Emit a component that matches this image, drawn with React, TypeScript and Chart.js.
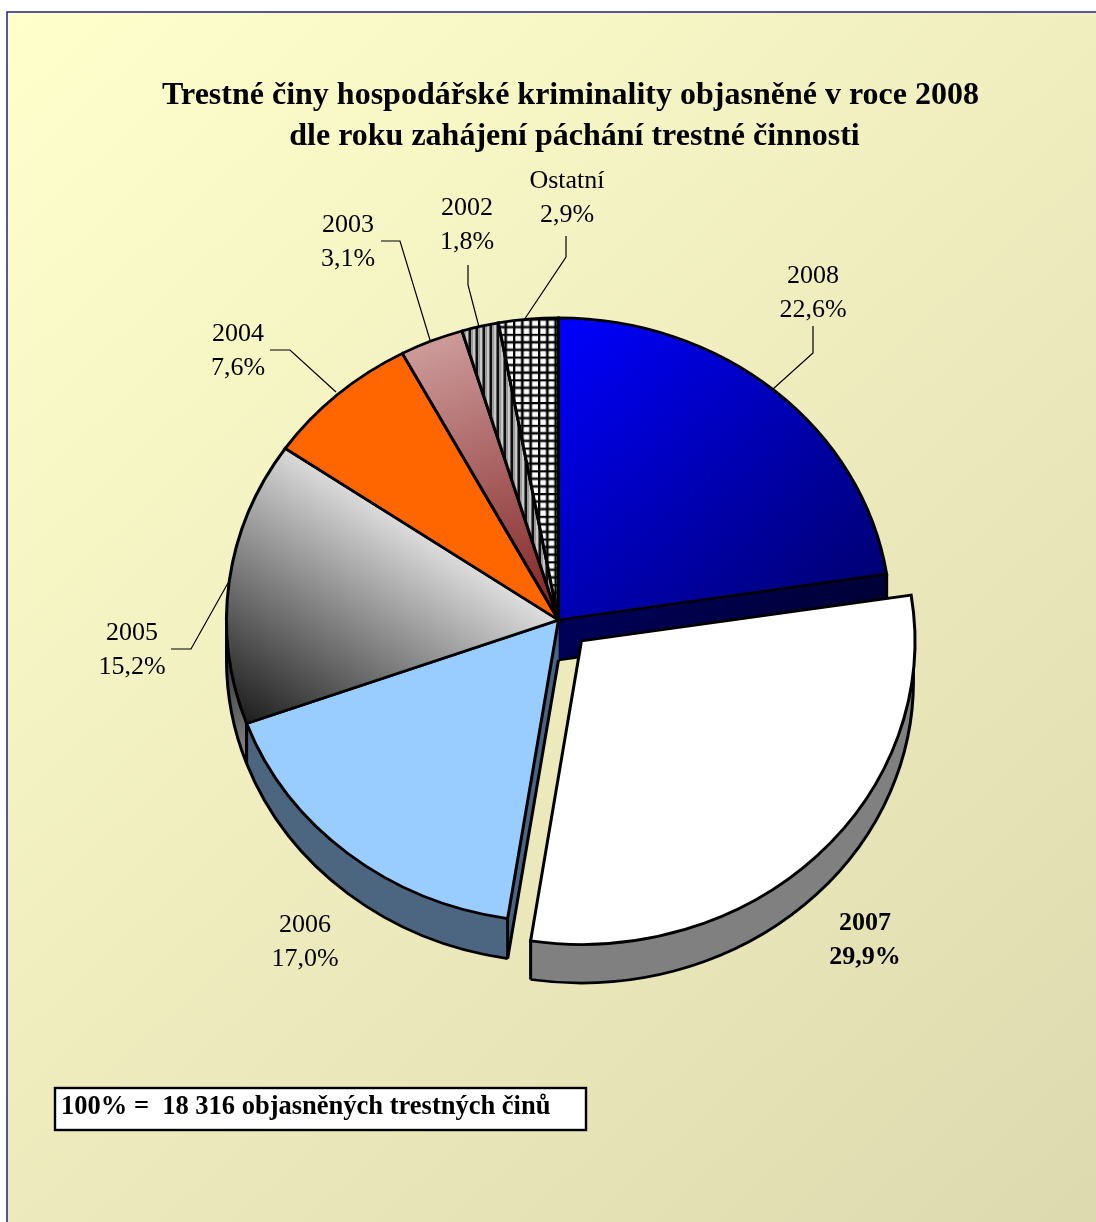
import React, { useEffect, useRef } from "react";
import { Chart, registerables } from "chart.js";

Chart.register(...registerables);

const categories = ["2008", "2007", "2006", "2005", "2004", "2003", "2002", "Ostatní"];
const shares = [22.6, 29.9, 17.0, 15.2, 7.6, 3.1, 1.8, 2.9];
const shareLabels = ["22,6%", "29,9%", "17,0%", "15,2%", "7,6%", "3,1%", "1,8%", "2,9%"];
const titleLines = [
  "Trestné činy hospodářské kriminality objasněné v roce 2008",
  " dle roku zahájení páchání trestné činnosti",
];
const footnote = "100% =  18 316 objasněných trestných činů";

const W = 1096;
const H = 1222;
const CX = 558.5;
const CY = 620;
const RX = 332;
const SQUASH = 0.91;
const DEPTH = 40;
const EXPLODE = 32.5;
const LINE = 3;
const FONT = '"Liberation Serif"';

const wallOrder = [6, 7, 5, 4, 0, 3, 2, 1];

const labelLayout: { x: number; y: number; bold?: boolean; leader?: number[][] }[] = [
  { x: 813, y: 276, leader: [[813, 326], [813, 353], [773, 389]] },
  { x: 865, y: 923, bold: true },
  { x: 305, y: 925 },
  { x: 132, y: 633, leader: [[171, 649], [191, 649], [228, 583]] },
  { x: 238, y: 334, leader: [[270, 350], [290, 350], [336, 392]] },
  { x: 348, y: 225, leader: [[381, 241], [400, 241], [430, 340]] },
  { x: 467, y: 208, leader: [[468, 265], [468, 285], [479, 327]] },
  { x: 567, y: 181, leader: [[566, 236], [566, 257], [524, 320]] },
];

function stripePattern(ctx: CanvasRenderingContext2D) {
  const c = document.createElement("canvas");
  c.width = 7;
  c.height = 7;
  const g = c.getContext("2d")!;
  g.fillStyle = "#999999";
  g.fillRect(0, 0, 7, 7);
  g.fillStyle = "#c8c8c8";
  g.fillRect(2, 0, 2, 7);
  g.fillStyle = "#606060";
  g.fillRect(4, 0, 1, 7);
  g.fillStyle = "#101010";
  g.fillRect(5, 0, 2, 7);
  return ctx.createPattern(c, "repeat")!;
}

function gridPattern(ctx: CanvasRenderingContext2D) {
  const c = document.createElement("canvas");
  c.width = 25;
  c.height = 25;
  const g = c.getContext("2d")!;
  g.fillStyle = "#ffffff";
  g.fillRect(0, 0, 25, 25);
  const step = 25 / 3;
  for (let i = 0; i < 3; i++) {
    g.fillStyle = "rgba(0,0,0,0.35)";
    g.fillRect(i * step - 1, 0, 4, 25);
    g.fillRect(0, i * step - 1, 25, 4);
  }
  for (let i = 0; i < 3; i++) {
    g.fillStyle = "#000000";
    g.fillRect(i * step, 0, 2, 25);
    g.fillRect(0, i * step, 25, 2);
  }
  return ctx.createPattern(c, "repeat")!;
}

// Gradients are given in page coordinates and mapped into the pie's unsquashed space.
function pieGradient(
  ctx: CanvasRenderingContext2D,
  cx: number,
  cy: number,
  from: number[],
  to: number[],
  c0: string,
  c1: string
) {
  const lx = (x: number) => cx + (x - CX);
  const ly = (y: number) => cy + (y - CY) / SQUASH;
  const g = ctx.createLinearGradient(lx(from[0]), ly(from[1]), lx(to[0]), ly(to[1]));
  g.addColorStop(0, c0);
  g.addColorStop(1, c1);
  return g;
}

function sliceFills(ctx: CanvasRenderingContext2D, cx: number, cy: number) {
  return [
    pieGradient(ctx, cx, cy, [558, 318], [888, 620], "#0000ff", "#000066"),
    "#ffffff",
    "#99ccff",
    pieGradient(ctx, cx, cy, [247, 722], [415, 510], "#1e1e1e", "#e8e8e8"),
    "#ff6600",
    pieGradient(ctx, cx, cy, [430, 345], [558, 620], "#cc9999", "#802020"),
    stripePattern(ctx),
    gridPattern(ctx),
  ];
}

function wallFills(ctx: CanvasRenderingContext2D, cx: number, cy: number) {
  return [
    pieGradient(ctx, cx, cy, [558, 318], [888, 620], "#000080", "#000033"),
    "#808080",
    "#4d6680",
    pieGradient(ctx, cx, cy, [228, 640], [247, 750], "#2a2a2a", "#808080"),
    "#803300",
    "#662020",
    "#444444",
    "#444444",
  ];
}

const pieTransform = {
  id: "pieTransform",
  beforeDatasetsDraw(chart: any) {
    const ctx = chart.ctx as CanvasRenderingContext2D;
    const arcs = chart.getDatasetMeta(0).data;
    const { x: ax, y: ay } = arcs[0];
    ctx.save();
    ctx.translate(CX, CY);
    ctx.scale(1, SQUASH);
    ctx.translate(-ax, -ay);

    const fills = wallFills(ctx, ax, ay);
    const dy = DEPTH / SQUASH;
    for (const i of wallOrder) {
      const a = arcs[i];
      const off = (a.options.offset || 0) / 4;
      const mid = (a.startAngle + a.endAngle) / 2;
      const ox = a.x + Math.cos(mid) * off;
      const oy = a.y + Math.sin(mid) * off;
      const r = a.outerRadius;
      ctx.fillStyle = fills[i];
      for (let d = Math.ceil(dy); d >= 0; d--) {
        const shift = Math.min(d, dy);
        ctx.beginPath();
        ctx.moveTo(ox, oy + shift);
        ctx.arc(ox, oy + shift, r, a.startAngle, a.endAngle);
        ctx.closePath();
        ctx.fill();
      }
      ctx.strokeStyle = "#000000";
      ctx.lineWidth = LINE;
      ctx.lineJoin = "miter";
      const rimPoint = (ang: number) =>
        [ox + Math.cos(ang) * r, oy + dy + Math.sin(ang) * r] as const;
      // Cut faces: the floor's radial edge is drawn only where it bounds a visible face.
      if (Math.cos(a.startAngle) < 0) {
        ctx.beginPath();
        ctx.moveTo(ox, oy + dy);
        ctx.lineTo(...rimPoint(a.startAngle));
        ctx.stroke();
      }
      if (Math.cos(a.endAngle) > 0) {
        ctx.beginPath();
        ctx.moveTo(ox, oy + dy);
        ctx.lineTo(...rimPoint(a.endAngle));
        ctx.stroke();
      }
      // The outer wall faces the viewer only on the lower half of the rim.
      const from = Math.max(a.startAngle, 0);
      const to = Math.min(a.endAngle, Math.PI);
      if (to > from) {
        ctx.beginPath();
        ctx.arc(ox, oy + dy, r, from, to);
        ctx.stroke();
      }
      const drop = (ang: number) => {
        const px = ox + Math.cos(ang) * r;
        const py = oy + Math.sin(ang) * r;
        ctx.beginPath();
        ctx.moveTo(px, py);
        ctx.lineTo(px, py + dy);
        ctx.stroke();
      };
      drop(a.startAngle);
      drop(a.endAngle);
      for (const k of [-2, -1, 0, 1, 2]) {
        const ang = k * Math.PI;
        if (ang > a.startAngle && ang < a.endAngle) drop(ang);
      }
    }
  },
  afterDatasetsDraw(chart: any) {
    chart.ctx.restore();
  },
};

const pageBackground = {
  id: "pageBackground",
  beforeDraw(chart: any) {
    const ctx = chart.ctx as CanvasRenderingContext2D;
    ctx.save();
    ctx.fillStyle = "#ffffff";
    ctx.fillRect(0, 0, W, H);
    const g = ctx.createLinearGradient(7, 12, W + 60, H + 40);
    g.addColorStop(0, "#ffffcc");
    g.addColorStop(1, "#dcd8ae");
    ctx.fillStyle = g;
    ctx.fillRect(7, 12, W + 20, H + 20);
    ctx.strokeStyle = "#2e2e8f";
    ctx.lineWidth = 1.6;
    ctx.strokeRect(7, 12, W + 20, H + 20);
    ctx.restore();
  },
};

const annotations = {
  id: "annotations",
  afterDraw(chart: any) {
    const ctx = chart.ctx as CanvasRenderingContext2D;
    ctx.save();
    ctx.textAlign = "center";
    ctx.textBaseline = "middle";
    ctx.fillStyle = "#000000";
    categories.forEach((name, i) => {
      const p = labelLayout[i];
      ctx.font = `${p.bold ? "bold " : ""}26px ${FONT}`;
      ctx.fillText(name, p.x, p.y);
      ctx.fillText(shareLabels[i], p.x, p.y + 34);
      if (p.leader) {
        ctx.strokeStyle = "#000000";
        ctx.lineWidth = 1.2;
        ctx.beginPath();
        p.leader.forEach(([x, y], j) => (j ? ctx.lineTo(x, y) : ctx.moveTo(x, y)));
        ctx.stroke();
      }
    });
    ctx.fillStyle = "#ffffff";
    ctx.fillRect(55, 1088, 531, 42);
    ctx.strokeStyle = "#000000";
    ctx.lineWidth = 2.4;
    ctx.strokeRect(55, 1088, 531, 42);
    ctx.fillStyle = "#000000";
    ctx.textAlign = "left";
    ctx.font = `bold 26.5px ${FONT}`;
    ctx.fillText(footnote, 61, 1107);
    ctx.restore();
  },
};

export default function App() {
  const ref = useRef<HTMLCanvasElement>(null);
  useEffect(() => {
    const canvas = ref.current!;
    const chart = new Chart(canvas, {
      type: "pie",
      data: {
        labels: categories,
        datasets: [
          {
            data: shares,
            clip: false,
            radius: RX,
            borderColor: "#000000",
            borderWidth: LINE,
            borderJoinStyle: "miter",
            offset: categories.map((c) => (c === "2007" ? EXPLODE * 4 : 0)),
            backgroundColor: (c: any) => {
              const area = c.chart.chartArea;
              if (!area) return "#ffffff";
              const fills = sliceFills(
                c.chart.ctx,
                (area.left + area.right) / 2,
                (area.top + area.bottom) / 2
              );
              return fills[c.dataIndex];
            },
          } as any,
        ],
      },
      options: {
        responsive: false,
        animation: false,
        radius: RX,
        layout: { padding: { left: 45, top: 55, right: 0, bottom: 0 } },
        plugins: {
          legend: { display: false },
          tooltip: { enabled: false },
          title: {
            display: true,
            text: titleLines,
            color: "#000000",
            padding: { top: 20, bottom: 0 },
            font: { family: FONT, size: 32, weight: "bold", lineHeight: 41 / 32 },
          },
        },
      } as any,
      plugins: [pageBackground, pieTransform, annotations],
    });
    return () => chart.destroy();
  }, []);
  return (
    <div style={{ position: "absolute", left: 0, top: 0, width: W, height: H, overflow: "hidden" }}>
      <canvas ref={ref} width={W} height={H} style={{ display: "block" }} />
    </div>
  );
}
